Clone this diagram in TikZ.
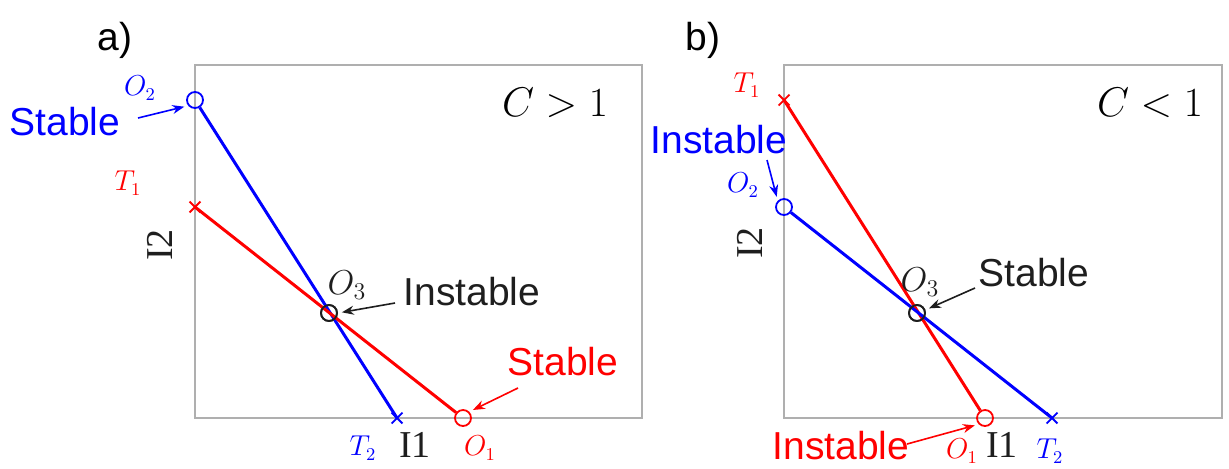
\documentclass[tikz,border=0pt]{standalone}
\usepackage{fontspec}
\setmainfont{Liberation Serif}
\setsansfont{Liberation Sans}
\usetikzlibrary{arrows.meta,shapes.misc}
\definecolor{boxgray}{RGB}{175,175,175}
\definecolor{txtblack}{RGB}{30,30,30}
\begin{document}
\begin{tikzpicture}[x=0.5pt,y=-0.5pt,
  lbl/.style={font=\sffamily\fontsize{19.5}{20}\selectfont},
  sym/.style={font=\fontsize{13.5}{13.5}\selectfont},
  axis/.style={font=\fontsize{19}{19}\selectfont,txtblack,inner sep=0pt},
  pt/.style={circle,draw,line width=0.9pt,minimum size=8pt,inner sep=0pt},
  tk/.style={cross out,draw,line width=0.9pt,minimum size=4.5pt,inner sep=0pt},
  seg/.style={line width=1.5pt},
  arr/.style={-{Stealth[length=6pt,width=4.5pt]},line width=0.8pt,shorten >=2pt}]
\useasboundingbox (0,0) rectangle (1229,468);
% a) C > 1
\draw[boxgray,line width=0.8pt] (195,65) rectangle (642,418);
\node[lbl] (capa) at (115,40) {a)};
\node[font=\fontsize{22}{22}\selectfont] (conda) at (555,103) {$C>1$};
\node[axis,rotate=90] (ya) at (160,245) {I2};
\node[axis] (xa) at (415,445) {I1};
\node[pt,blue] (o2a) at (195,100) {};
\node[tk,red] (t1a) at (195,207) {};
\node[pt,txtblack] (o3a) at (329,313) {};
\node[tk,blue] (t2a) at (397,418) {};
\node[pt,red] (o1a) at (463,418) {};
\draw[seg,blue] (o2a) -- (t2a.center);
\draw[seg,red] (t1a.center) -- (o1a);
\node[pt,txtblack] at (o3a) {};
\node[sym,blue] (o2la) at (140,88) {$O_2$};
\node[sym,red] (t1la) at (128,183) {$T_1$};
\node[font=\fontsize{18}{18}\selectfont,txtblack] (o3la) at (347,285) {$O_3$};
\node[sym,blue] (t2la) at (363,448) {$T_2$};
\node[sym,red] (o1la) at (480,448) {$O_1$};
\node[lbl,blue] (sta) at (65,122) {Stable};
\node[lbl,txtblack] (insa) at (472,292) {Instable};
\node[lbl,red] (stra) at (563,362) {Stable};
\coordinate (sta_t) at (138,118);
\coordinate (insa_t) at (395,303);
\coordinate (stra_t) at (518,388);
\draw[arr,blue] (sta_t) -- (o2a.220);
\draw[arr,txtblack] (insa_t) -- (o3a.east);
\draw[arr,red] (stra_t) -- (o1a.45);
% b) C < 1
\draw[boxgray,line width=0.8pt] (784,65) rectangle (1222,418);
\node[lbl] (capb) at (703,40) {b)};
\node[font=\fontsize{22}{22}\selectfont] (condb) at (1150,103) {$C<1$};
\node[axis,rotate=90] (yb) at (750,243) {I2};
\node[axis] (xb) at (1002,445) {I1};
\node[tk,red] (t1b) at (784,100) {};
\node[pt,blue] (o2b) at (784,207) {};
\node[pt,txtblack] (o3b) at (917,313) {};
\node[pt,red] (o1b) at (985,418) {};
\node[tk,blue] (t2b) at (1052,418) {};
\draw[seg,red] (t1b.center) -- (o1b);
\draw[seg,blue] (o2b) -- (t2b.center);
\node[pt,txtblack] at (o3b) {};
\node[sym,red] (t1lb) at (747,85) {$T_1$};
\node[sym,blue] (o2lb) at (743,185) {$O_2$};
\node[font=\fontsize{18}{18}\selectfont,txtblack] (o3lb) at (920,282) {$O_3$};
\node[sym,red] (o1lb) at (962,451) {$O_1$};
\node[sym,blue] (t2lb) at (1050,451) {$T_2$};
\node[lbl,blue] (insb) at (719,140) {Instable};
\node[lbl,txtblack] (stb) at (1034,273) {Stable};
\node[lbl,red] (insrb) at (841,446) {Instable};
\coordinate (insb_t) at (767,160);
\coordinate (stb_t) at (975,288);
\coordinate (insrb_t) at (907,444);
\draw[arr,blue] (insb_t) -- (o2b.135);
\draw[arr,txtblack] (stb_t) -- (o3b.20);
\draw[arr,red] (insrb_t) -- (o1b.225);
\end{tikzpicture}
\end{document}
